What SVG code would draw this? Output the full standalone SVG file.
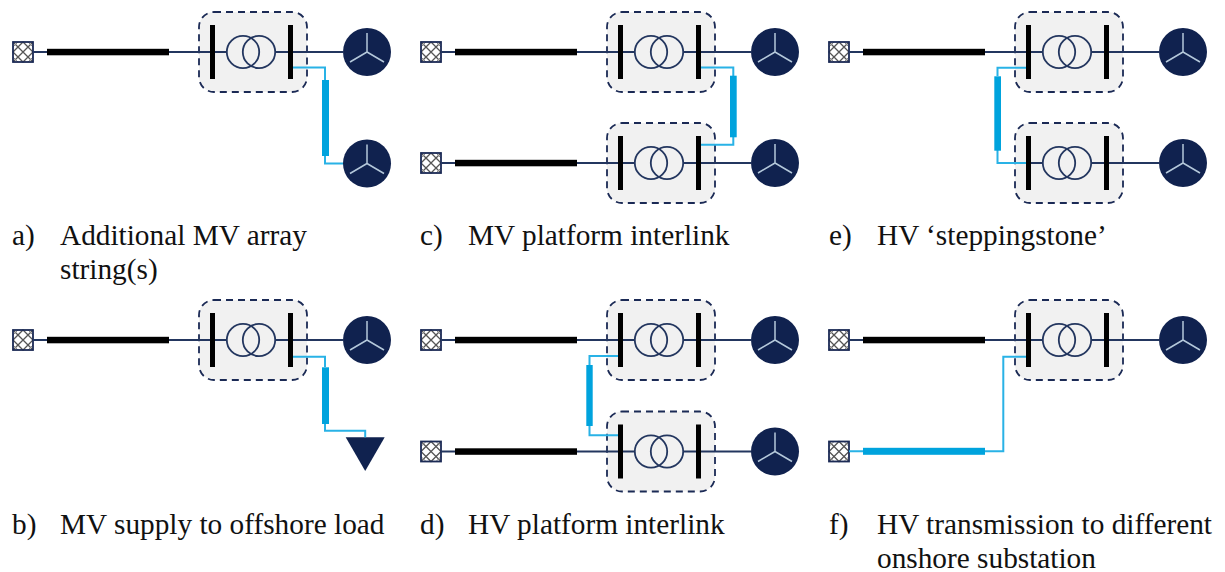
<svg xmlns="http://www.w3.org/2000/svg" width="1225" height="572" viewBox="0 0 1225 572">
<style>
text{font-family:"Liberation Serif","Times New Roman",serif;font-size:29.3px;fill:#111}
.w{fill:none;stroke:#23365f;stroke-width:2}
.b{fill:none;stroke:#29b2e6;stroke-width:2}
.kc{fill:#000}
.bc{fill:#00a3dd}
.box{fill:#f1f1f1;stroke:#1b2a55;stroke-width:1.8;stroke-dasharray:7 5}
.tc{fill:none;stroke:#23365f;stroke-width:1.8}
</style>
<defs>
<g id="grid"><rect x="-10" y="-10" width="20" height="20" fill="#fff"/>
<path d="M-10-10L10 10M-10 10L10-10M-10 0L0-10L10 0L0 10Z" fill="none" stroke="#555" stroke-width="1.300"/>
<path d="M-10-5L-5-10M5-10L10-5M10 5L5 10M-5 10L-10 5" fill="none" stroke="#888" stroke-width="1"/>
<rect x="-10" y="-10" width="20" height="20" fill="none" stroke="#1b2a55" stroke-width="1.800"/></g>
<g id="sub"><rect x="-44.500" y="-40" width="108" height="80" rx="15" class="box"/>
<rect x="-33.500" y="-27" width="5" height="54" class="kc"/>
<rect x="44.500" y="-27" width="5" height="54" class="kc"/>
<circle cx="-0.500" cy="0" r="16.200" class="tc"/><circle cx="15.500" cy="0" r="16.200" class="tc"/></g>
<g id="wind"><circle r="24" fill="#10224f"/><path d="M0 0V-19M0 0L17 10M0 0L-17 10" stroke="#b4c8da" stroke-width="1.500" fill="none"/></g>
</defs>
<g id="a-grid"><use href="#grid" x="23" y="52"/></g>
<g id="a-sub"><use href="#sub" x="243.500" y="52"/></g>
<g id="a-wind1"><use href="#wind" x="367" y="52"/></g>
<g id="a-wind2"><use href="#wind" x="367" y="163.500"/></g>
<g id="c-grid1"><use href="#grid" x="431" y="52"/></g>
<g id="c-grid2"><use href="#grid" x="431" y="163"/></g>
<g id="c-sub1"><use href="#sub" x="651.500" y="52"/></g>
<g id="c-sub2"><use href="#sub" x="651.500" y="163"/></g>
<g id="c-wind1"><use href="#wind" x="775" y="52"/></g>
<g id="c-wind2"><use href="#wind" x="775" y="163"/></g>
<g id="e-grid"><use href="#grid" x="839" y="52"/></g>
<g id="e-sub1"><use href="#sub" x="1059.500" y="52"/></g>
<g id="e-sub2"><use href="#sub" x="1059.500" y="163"/></g>
<g id="e-wind1"><use href="#wind" x="1183" y="52"/></g>
<g id="e-wind2"><use href="#wind" x="1183" y="163"/></g>
<g id="b-grid"><use href="#grid" x="23" y="340"/></g>
<g id="b-sub"><use href="#sub" x="243.500" y="340"/></g>
<g id="b-wind"><use href="#wind" x="367" y="340"/></g>
<g id="b-load"><path d="M345.700 437.300H384.700L365.200 471Z" fill="#10224f"/></g>
<g id="d-grid1"><use href="#grid" x="431" y="340"/></g>
<g id="d-grid2"><use href="#grid" x="431" y="451.500"/></g>
<g id="d-sub1"><use href="#sub" x="651.500" y="340"/></g>
<g id="d-sub2"><use href="#sub" x="651.500" y="451.500"/></g>
<g id="d-wind1"><use href="#wind" x="775" y="340"/></g>
<g id="d-wind2"><use href="#wind" x="775" y="451.500"/></g>
<g id="f-grid1"><use href="#grid" x="839" y="340"/></g>
<g id="f-grid2"><use href="#grid" x="839" y="451.500"/></g>
<g id="f-sub"><use href="#sub" x="1059.500" y="340"/></g>
<g id="f-wind"><use href="#wind" x="1183" y="340"/></g>
<g id="connectors">
<path class="w" d="M33 52H210M215 52H227M275 52H288M293 52H343M33 340H210M215 340H227M275 340H288M293 340H343"/>
<path class="w" d="M441 52H618M623 52H635M683 52H696M701 52H751M441 163H618M623 163H635M683 163H696M701 163H751M441 340H618M623 340H635M683 340H696M701 340H751M441 451.500H618M623 451.500H635M683 451.500H696M701 451.500H751"/>
<path class="w" d="M849 52H1026M1031 52H1043M1091 52H1104M1109 52H1159M1031 163H1043M1091 163H1104M1109 163H1159M849 340H1026M1031 340H1043M1091 340H1104M1109 340H1159"/>
<path class="b" d="M293 67.500H325V80M325 156V163.500H343M701 67.500H733.300V76M733.300 137V144.700H701M1026 67.700H997.500V76M997.500 150V163H1026M293 356.700H325V367M325 424V430.700H365.200V437.300M618 356H589.500V365M589.500 426V435.300H618M1026 356.700H1003.300V451.300H985M849 451.300H863"/>
<rect class="kc" x="47" y="48.800" width="122" height="6.500"/>
<rect class="kc" x="455" y="48.800" width="122" height="6.500"/>
<rect class="kc" x="455" y="159.800" width="122" height="6.500"/>
<rect class="kc" x="863" y="48.800" width="122" height="6.500"/>
<rect class="kc" x="47" y="336.800" width="122" height="6.500"/>
<rect class="kc" x="455" y="336.800" width="122" height="6.500"/>
<rect class="kc" x="455" y="448.300" width="122" height="6.500"/>
<rect class="kc" x="863" y="336.800" width="122" height="6.500"/>
<rect class="bc" x="863" y="447.800" width="122" height="7"/>
<rect class="bc" x="322" y="80" width="7" height="76"/>
<rect class="bc" x="730" y="75.700" width="6.700" height="61.600"/>
<rect class="bc" x="994.300" y="76.300" width="6.700" height="74.400"/>
<rect class="bc" x="322" y="367.300" width="7" height="56.700"/>
<rect class="bc" x="586.300" y="365" width="6.400" height="61"/>
</g>
<g id="labels">
<text x="12" y="245">a)</text><text x="60" y="245">Additional MV array</text><text x="60" y="279">string(s)</text>
<text x="420" y="245">c)</text><text x="468" y="245">MV platform interlink</text>
<text x="829" y="245">e)</text><text x="877" y="245">HV ‘steppingstone’</text>
<text x="12" y="534">b)</text><text x="60" y="534">MV supply to offshore load</text>
<text x="420" y="534">d)</text><text x="468" y="534">HV platform interlink</text>
<text x="829" y="534">f)</text><text x="877" y="534">HV transmission to different</text><text x="877" y="568">onshore substation</text>
</g>
</svg>
